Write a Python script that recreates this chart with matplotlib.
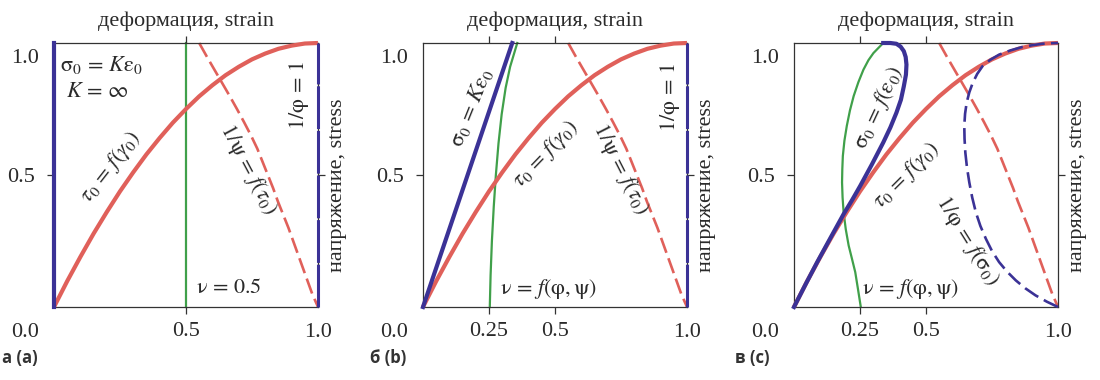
import matplotlib
matplotlib.use("Agg")
import matplotlib.pyplot as plt

# ================> fonts
plt.rcParams['font.family'] = 'serif'
plt.rcParams['font.serif'] = ['Liberation Serif', 'DejaVu Serif']
plt.rcParams['mathtext.fontset'] = 'stix'

# ================> data
# tau_0 = f(gamma_0), same curve in all three panels
tau_x = [0.0, 0.05, 0.10, 0.15, 0.20, 0.25, 0.30, 0.35, 0.40, 0.45, 0.50,
         0.55, 0.60, 0.65, 0.70, 0.75, 0.80, 0.85, 0.90, 0.95, 1.0]
tau_y = [0.0, 0.098, 0.19, 0.278, 0.36, 0.438, 0.51, 0.578, 0.64, 0.698, 0.75,
         0.798, 0.84, 0.878, 0.91, 0.938, 0.96, 0.978, 0.99, 0.998, 1.0]

# 1/psi = f(tau_0), dashed red
psi_x = [0.55, 0.578, 0.607, 0.636, 0.665, 0.693, 0.72, 0.746, 0.77, 0.79, 0.81,
         0.83, 0.848, 0.868, 0.888, 0.906, 0.924, 0.942, 0.96, 0.978, 1.0]
psi_y = [1.0, 0.95, 0.90, 0.85, 0.80, 0.75, 0.70, 0.65, 0.60, 0.55, 0.50,
         0.45, 0.40, 0.35, 0.30, 0.25, 0.20, 0.15, 0.10, 0.05, 0.0]

# panel a
sig_a_x = [0.0, 0.0]
sig_a_y = [0.0, 1.0]
nu_a_x = [0.5, 0.5]
nu_a_y = [0.0, 1.0]
phi_ab_x = [1.0, 1.0]
phi_ab_y = [0.0, 1.0]

# panel b
sig_b_x = [0.0, 0.338]
sig_b_y = [0.0, 1.0]
nu_b_x = [0.253, 0.256, 0.261, 0.268, 0.276, 0.286, 0.298, 0.313, 0.33, 0.357]
nu_b_y = [0.0, 0.12, 0.25, 0.38, 0.50, 0.62, 0.73, 0.83, 0.91, 1.0]

# panel c
sig_c_x = [0.0, 0.045, 0.088, 0.14, 0.188, 0.22, 0.251, 0.295, 0.338, 0.365, 0.388,
           0.405, 0.416, 0.424, 0.426, 0.423, 0.416, 0.404, 0.388, 0.365, 0.338]
sig_c_y = [0.0, 0.088, 0.17, 0.265, 0.352, 0.405, 0.459, 0.54, 0.623, 0.68, 0.736,
           0.785, 0.836, 0.88, 0.918, 0.947, 0.969, 0.986, 0.997, 1.0, 1.0]
nu_c_x = [0.253, 0.242, 0.232, 0.219, 0.207, 0.196, 0.188, 0.184, 0.182, 0.183, 0.185,
          0.191, 0.200, 0.212, 0.226, 0.244, 0.263, 0.282, 0.301, 0.338]
nu_c_y = [0.0, 0.07, 0.132, 0.185, 0.233, 0.295, 0.358, 0.415, 0.472, 0.522, 0.572,
          0.63, 0.686, 0.745, 0.799, 0.852, 0.899, 0.935, 0.962, 1.0]
phi_c_x = [1.0, 0.958, 0.915, 0.876, 0.840, 0.807, 0.777, 0.750, 0.727, 0.706, 0.689,
           0.675, 0.664, 0.655, 0.649, 0.646, 0.645, 0.648, 0.654, 0.664, 0.677,
           0.694, 0.714, 0.743, 0.777, 0.82, 0.865, 0.905, 0.940, 0.972, 1.0]
phi_c_y = [0.0, 0.02, 0.044, 0.071, 0.101, 0.134, 0.170, 0.212, 0.258, 0.307, 0.358,
           0.415, 0.472, 0.53, 0.585, 0.637, 0.686, 0.732, 0.774, 0.813, 0.849,
           0.883, 0.912, 0.936, 0.956, 0.972, 0.985, 0.992, 0.997, 0.999, 1.0]

panel_names = ["а (a)", "б (b)", "в (c)"]

# ================> styles
RED = "#e0605a"
BLUE = "#3b3296"
GREEN = "#40a04a"
INK = "#2a2a2a"
TXT = 16

fig = plt.figure(figsize=(11, 3.8), dpi=100)
lefts = [54, 423, 794]
axes = []
for left in lefts:
    ax = fig.add_axes([left / 1100, 73 / 380, 264 / 1100, 264 / 380])
    ax.set_xlim(0, 1)
    ax.set_ylim(0, 1)
    for sp in ax.spines.values():
        sp.set_color("#333333")
        sp.set_linewidth(0.9)
    ax.tick_params(direction="out", length=5, width=0.9, color="#333333",
                   labelsize=TXT, labelcolor=INK, top=True, right=True)
    ax.tick_params(axis="x", pad=6, labeltop=False)
    ax.tick_params(axis="y", pad=9, labelright=False)
    ax.set_yticks([0.5])
    ax.set_yticklabels(["0.5"])
    ax.text(-0.11, 0.943, "1.0", fontsize=TXT, color=INK, ha="center", va="center")
    ax.text(-0.11, -0.098, "0.0", fontsize=TXT, color=INK, ha="center", va="center")
    ax.text(1.0, -0.098, "1.0", fontsize=TXT, color=INK, ha="center", va="center")
    ax.text(0.5, 1.083, "деформация, strain", fontsize=TXT, color=INK, ha="center", va="center")
    ax.text(1.075, 0.46, "напряжение, stress", fontsize=TXT, color=INK, rotation=90,
            ha="center", va="center")
    # common curves
    ax.plot(tau_x, tau_y, color=RED, lw=3.0, solid_capstyle="butt", solid_joinstyle="round",
            zorder=3, clip_on=False)
    ax.plot(psi_x, psi_y, color=RED, lw=1.9, dashes=(6, 2.2), zorder=2, clip_on=False)
    axes.append(ax)

mt = dict(fontsize=TXT, color=INK, ha="center", va="center", rotation_mode="anchor")

# ---- panel a
ax = axes[0]
ax.set_xticks([0.5])
ax.set_xticklabels(["0.5"])
ax.plot(sig_a_x, sig_a_y, color=BLUE, lw=3.0, zorder=4, clip_on=False)
ax.plot(nu_a_x, nu_a_y, color=GREEN, lw=1.6, zorder=1, clip_on=False)
ax.plot(phi_ab_x, phi_ab_y, color=BLUE, lw=2.2, dashes=(14, 0.6), zorder=4, clip_on=False)
ax.text(0.023, 0.918, r"$\mathrm{\sigma}_0\,=\,K\mathrm{\varepsilon}_0$", fontsize=TXT,
        color=INK, ha="left", va="center")
ax.text(0.044, 0.811, r"$K\,=\,\infty$", fontsize=TXT, color=INK, ha="left", va="center")
ax.text(0.213, 0.528, r"$\tau_0\,=\,f\left(\gamma_0\right)$", rotation=52, **mt)
ax.text(0.733, 0.522, r"$1/\mathrm{\psi}\,=\,f\left(\tau_0\right)$", rotation=-62, **mt)
ax.text(0.927, 0.80, r"$1/\mathrm{\varphi}\,=\,1$", rotation=90, **mt)
ax.text(0.536, 0.069, r"$\mathrm{\nu}\,=\,0.5$", fontsize=TXT, color=INK, ha="left", va="center")

# ---- panel b
ax = axes[1]
ax.set_xticks([0.25, 0.5])
ax.set_xticklabels(["0.25", "0.5"])
ax.plot(sig_b_x, sig_b_y, color=BLUE, lw=3.0, zorder=4, clip_on=False)
ax.plot(nu_b_x, nu_b_y, color=GREEN, lw=1.6, zorder=2, clip_on=False)
ax.plot(phi_ab_x, phi_ab_y, color=BLUE, lw=2.2, dashes=(14, 0.6), zorder=4, clip_on=False)
ax.text(0.182, 0.755, r"$\mathrm{\sigma}_0\,=\,K\mathrm{\varepsilon}_0$", rotation=68, **mt)
ax.text(0.464, 0.579, r"$\tau_0\,=\,f\left(\gamma_0\right)$", rotation=46, **mt)
ax.text(0.746, 0.522, r"$1/\mathrm{\psi}\,=\,f\left(\tau_0\right)$", rotation=-63, **mt)
ax.text(0.934, 0.792, r"$1/\mathrm{\varphi}\,=\,1$", rotation=90, **mt)
ax.text(0.291, 0.069, r"$\mathrm{\nu}\,=\,f(\mathrm{\varphi},\mathrm{\psi})$", fontsize=TXT,
        color=INK, ha="left", va="center")

# ---- panel c
ax = axes[2]
ax.set_xticks([0.25, 0.5])
ax.set_xticklabels(["0.25", "0.5"])
ax.plot(nu_c_x, nu_c_y, color=GREEN, lw=1.6, zorder=2, clip_on=False)
ax.plot(sig_c_x, sig_c_y, color=BLUE, lw=3.0, solid_joinstyle="round", zorder=4, clip_on=False)
ax.plot(phi_c_x, phi_c_y, color=BLUE, lw=1.9, dashes=(6, 2.4), zorder=4, clip_on=False)
ax.text(0.32, 0.755, r"$\mathrm{\sigma}_0\,=\,f\left(\mathrm{\varepsilon}_0\right)$",
        rotation=65, **mt)
ax.text(0.426, 0.497, r"$\tau_0\,=\,f\left(\gamma_0\right)$", rotation=45, **mt)
ax.text(0.655, 0.25, r"$1/\mathrm{\varphi}\,=\,f\left(\mathrm{\sigma}_0\right)$",
        rotation=-58, **mt)
ax.text(0.257, 0.069, r"$\mathrm{\nu}\,=\,f(\mathrm{\varphi},\mathrm{\psi})$", fontsize=TXT,
        color=INK, ha="left", va="center")

# panel letters
for x0, name in zip([2, 370, 735], panel_names):
    fig.text(x0 / 1100, 1 - 358 / 380, name, fontsize=12, fontweight="bold",
             family="Open Sans", color="#333333", ha="left", va="center")

fig.savefig("out.png", dpi=100)
